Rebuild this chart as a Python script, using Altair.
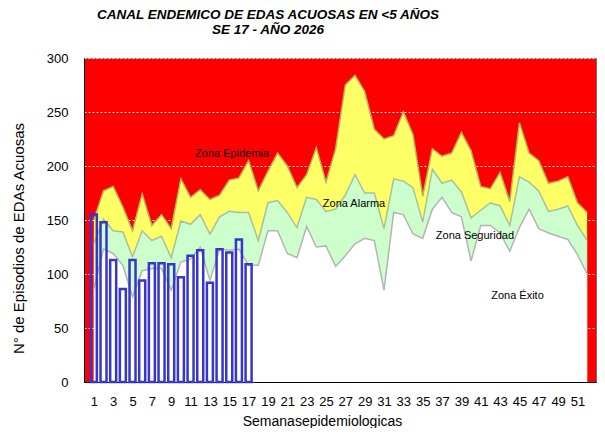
import altair as alt
import pandas as pd

weeks = list(range(1, 53))

exito = [86, 123, 119, 108, 79, 103, 105, 105, 85, 111, 114, 125, 94, 123, 122, 123, 108,
         108, 140, 140, 119, 115, 144, 125, 126, 107, 117, 128, 133, 131, 85, 157, 155, 137,
         133, 160, 171, 157, 153, 112, 145, 145, 138, 121, 143, 160, 142, 138, 135, 132, 118, 100]

seguridad = [128, 151, 140, 139, 116, 140, 131, 135, 115, 149, 146, 155, 137, 153, 158, 157, 157,
             131, 166, 168, 157, 143, 171, 169, 158, 160, 173, 192, 175, 175, 142, 188, 186, 180,
             148, 197, 184, 187, 176, 152, 159, 166, 163, 145, 190, 185, 177, 158, 160, 163, 145, 131]

alarma = [150, 177, 181, 162, 140, 174, 145, 155, 142, 188, 171, 178, 169, 173, 187, 189, 205,
          177, 195, 212, 200, 180, 192, 217, 185, 216, 275, 284, 269, 234, 225, 228, 250, 229,
          172, 216, 209, 212, 231, 214, 181, 179, 194, 167, 240, 212, 205, 184, 186, 190, 166, 157]

case_weeks = list(range(1, 18))
casos = [155, 148, 113, 86, 113, 94, 110, 110, 109, 97, 117, 122, 92, 123, 120, 132, 109]

x_tick_values = list(range(1, 52, 2))
y_tick_values = list(range(0, 301, 50))

zone_labels = ["Zona Epidemia", "Zona Alarma", "Zona Seguridad", "Zona Éxito"]
zone_x = [15.3, 27.9, 40.4, 44.8]
zone_y = [211, 165, 135, 80]

df = pd.DataFrame({"semana": weeks, "exito": exito, "seguridad": seguridad, "alarma": alarma})
dfc = pd.DataFrame({"semana": case_weeks, "casos": casos})
dfl = pd.DataFrame({"label": zone_labels, "semana": zone_x, "valor": zone_y})

FONT = "Liberation Sans"

xscale = alt.Scale(domain=[0.5, 52.4], nice=False, zero=False)
yscale = alt.Scale(domain=[0, 300], nice=False)

xaxis = alt.Axis(values=x_tick_values, title="Semanasepidemiologicas", grid=False,
                 ticks=False, labelPadding=13, labelFontSize=13, titleFontSize=14,
                 titleFontWeight="normal", titlePadding=6, domainColor="#000000",
                 labelColor="#000000", titleColor="#000000", labelFont=FONT, titleFont=FONT,
                 titleX=238, labelAngle=0, labelOverlap=False, labelFlush=False)
yaxis = alt.Axis(values=y_tick_values, title="N° de Episodios de EDAs Acuosas",
                 grid=True, gridColor="#f0f0f0", gridDash=[2, 2], gridWidth=1,
                 ticks=False, labelPadding=16, labelFontSize=13, titleFontSize=15,
                 titleFontWeight="normal", titlePadding=20, domainColor="#000000",
                 labelColor="#000000", titleColor="#000000", labelFont=FONT, titleFont=FONT,
                 titleY=180, labelOverlap=False, labelFlush=False)

base = alt.Chart(df)

X = alt.X("semana:Q", scale=xscale, axis=xaxis)

a_alarma = base.mark_area(color="#ffff66", opacity=1,
                          line={"color": "#b4b45a", "strokeWidth": 1.5}).encode(
    x=X,
    y=alt.Y("alarma:Q", scale=yscale, axis=yaxis),
)
a_seg = base.mark_area(color="#ccffcc", opacity=1,
                       line={"color": "#a8bfa0", "strokeWidth": 1.5}).encode(
    x=X,
    y=alt.Y("seguridad:Q", scale=yscale, axis=yaxis),
)
a_exito = base.mark_area(color="#ffffff", opacity=1,
                         line={"color": "#b4b4b4", "strokeWidth": 1.5}).encode(
    x=X,
    y=alt.Y("exito:Q", scale=yscale, axis=yaxis),
)
bars = alt.Chart(dfc).mark_bar(size=6, fill="#ffffff", fillOpacity=0, stroke="#3636cc",
                               strokeWidth=2.5, strokeOpacity=1).encode(
    x=X,
    y=alt.Y("casos:Q", scale=yscale, axis=yaxis),
)
labels = alt.Chart(dfl).mark_text(font=FONT, fontSize=11, color="#000000").encode(
    x=X,
    y=alt.Y("valor:Q", scale=yscale, axis=yaxis),
    text="label:N",
)

chart = alt.layer(a_alarma, a_seg, a_exito, bars, labels).properties(
    width=512, height=324,
    autosize=alt.AutoSizeParams(type="none"),
    padding={"left": 76, "top": 50, "right": 1, "bottom": 46},
    title=alt.Title(["CANAL ENDEMICO DE EDAS ACUOSAS EN <5 AÑOS", "SE 17 - AÑO 2026"],
                    font=FONT, fontSize=13.5, fontWeight="bold", fontStyle="italic",
                    anchor="middle", frame="group", dx=-72, offset=16, lineHeight=15,
                    color="#000000"),
).configure(background="#ffffff").configure_axisX(labelOverlap=False).configure_view(
    fill="#ff0000", stroke="#707070", strokeWidth=1)

chart.save("out.html", embed_options={"renderer": "svg", "actions": False})
